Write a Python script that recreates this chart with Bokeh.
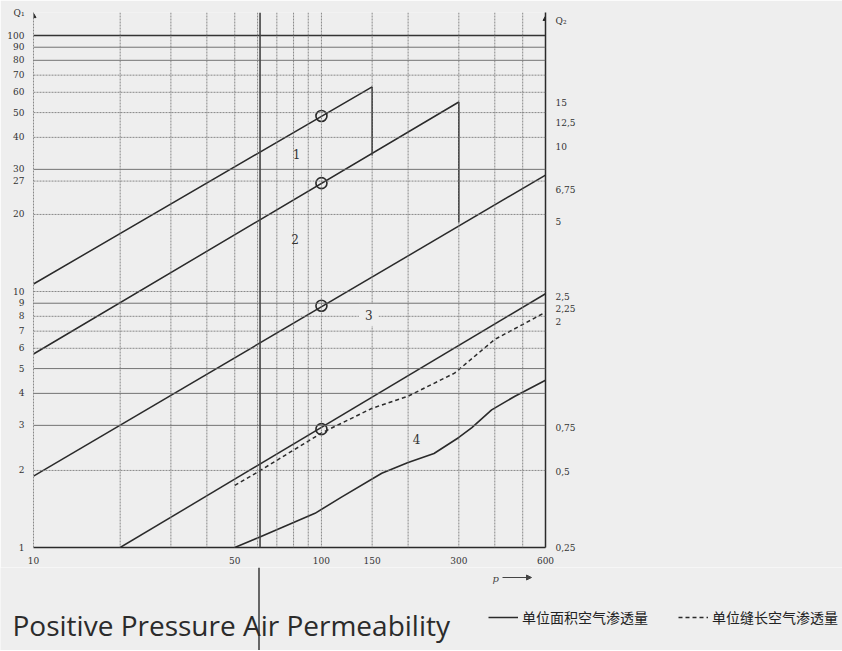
from bokeh.plotting import figure
from bokeh.layouts import column
from bokeh.models import (Range1d, LogAxis, LogScale, FixedTicker, CustomJSTickFormatter,
                          Span, Label, Arrow, NormalHead, Legend, LegendItem)
from bokeh.core.properties import value
from bokeh.embed import file_html
from bokeh.resources import INLINE

# ---------------- data ----------------
p_ticks = [10, 50, 100, 150, 300, 600]
q1_ticks = [1, 2, 3, 4, 5, 6, 7, 8, 9, 10, 20, 27, 30, 40, 50, 60, 70, 80, 90, 100]
q2_ticks = [0.25, 0.5, 0.75, 2, 2.25, 2.5, 5, 6.75, 10, 12.5, 15]
q1_name_tick = 122.5   # where the axis name "Q₁" sits on the left axis
q2_name_tick = 32      # where the axis name "Q₂" sits on the right axis

ygrid_solid = [3, 4, 5, 9, 30, 80, 90]
ygrid_dotted = [2, 6, 7, 8, 10, 20, 27, 40, 50, 60, 70]
ygrid_top = [100]
xgrid_dotted = [20, 30, 40, 50, 60, 70, 80, 90, 100, 150, 200, 300, 400, 500]
scan_line_p = [61.2]   # dark vertical fold line of the scanned page

line1_p = [10, 150, 150]
line1_q = [10.7, 63, 34]
line2_p = [10, 300, 300]
line2_q = [5.7, 55, 18.6]
line3_p = [10, 600]
line3_q = [1.9, 28.5]
line4_p = [20, 600]
line4_q = [1.0, 9.8]

dashed_p = [50, 60, 100, 150, 200, 290, 400, 600]
dashed_q = [1.75, 1.97, 2.8, 3.5, 3.9, 4.8, 6.5, 8.3]

curve4_p = [50, 60, 95, 117, 162, 200, 246, 300, 333, 390, 470, 600]
curve4_q = [1.0, 1.09, 1.36, 1.57, 1.95, 2.15, 2.33, 2.69, 2.94, 3.45, 3.9, 4.5]

circle_p = [100, 100, 100, 100]
circle_q = [48.5, 26.5, 8.8, 2.9]

curve_labels = ["1", "2", "3", "4"]
curve_label_p = [82, 81, 146, 214]
curve_label_q = [34.5, 16.0, 8.1, 2.65]

title_text = "Positive Pressure Air Permeability"
legend_labels = ["单位面积空气渗透量", "单位缝长空气渗透量"]
p_name = "p"

# ---------------- style ----------------
BG = "#eeeeee"
INK = "#2a2a2a"
SERIF = "DejaVu Serif"
W = 842

p = figure(width=W, height=567, x_axis_type="log", y_axis_type="log",
           x_range=Range1d(10, 600), y_range=Range1d(1, 123),
           output_backend="svg", toolbar_location=None,
           min_border_left=33, min_border_right=W - 545, min_border_top=12, min_border_bottom=20,
           background_fill_color=BG, border_fill_color=BG, outline_line_color=None)
p.frame_align = False
p.extra_y_ranges = {"q2": Range1d(0.25, 34.5)}
p.extra_y_scales = {"q2": LogScale()}
p.grid.visible = False

fmt_x = CustomJSTickFormatter(code="return tick.toString();")
fmt_l = CustomJSTickFormatter(args=dict(nt=q1_name_tick),
                              code="if (tick == nt) { return 'Q₁'; } return tick.toString();")
fmt_r = CustomJSTickFormatter(args=dict(nt=q2_name_tick),
                              code="if (tick == nt) { return 'Q₂'; } return tick.toString().replace('.', ',');")

# left axis
ya = p.yaxis[0]
ya.ticker = FixedTicker(ticks=q1_ticks + [q1_name_tick])
ya.formatter = fmt_l
ya.major_tick_line_color = None
ya.minor_tick_line_color = None
ya.axis_line_color = "#888888"
ya.axis_line_dash = "2 1"
ya.major_label_standoff = 3
ya.major_label_text_font = SERIF
ya.major_label_text_font_size = "9px"
ya.major_label_text_color = "#333333"

# bottom axis
xa = p.xaxis[0]
xa.ticker = FixedTicker(ticks=p_ticks)
xa.formatter = fmt_x
xa.major_tick_line_color = None
xa.minor_tick_line_color = None
xa.axis_line_color = INK
xa.axis_line_width = 1.5
xa.major_label_standoff = 3
xa.major_label_text_font = SERIF
xa.major_label_text_font_size = "9px"
xa.major_label_text_color = "#333333"

# right axis
ra = LogAxis(y_range_name="q2", ticker=FixedTicker(ticks=q2_ticks + [q2_name_tick]),
             formatter=fmt_r)
ra.major_tick_line_color = None
ra.minor_tick_line_color = None
ra.axis_line_color = INK
ra.axis_line_width = 1.5
ra.major_label_standoff = 4
ra.major_label_text_font = SERIF
ra.major_label_text_font_size = "9px"
ra.major_label_text_color = "#333333"
p.add_layout(ra, "right")

# grid lines
for v in ygrid_dotted:
    p.add_layout(Span(location=v, dimension="width", line_color="#777777", line_width=1,
                      line_dash="2 1", line_alpha=0.85))
for v in ygrid_solid:
    p.add_layout(Span(location=v, dimension="width", line_color="#666666", line_width=1,
                      line_alpha=0.9))
for v in ygrid_top:
    p.add_layout(Span(location=v, dimension="width", line_color="#333333", line_width=1.6))
for v in xgrid_dotted:
    p.add_layout(Span(location=v, dimension="height", line_color="#777777", line_width=1,
                      line_dash="2 1", line_alpha=0.85))
for v in scan_line_p:
    p.add_layout(Span(location=v, dimension="height", line_color="#444444", line_width=1.6))

# curves
p.line(line1_p, line1_q, line_color=INK, line_width=1.5)
p.line(line2_p, line2_q, line_color=INK, line_width=1.5)
p.line(line3_p, line3_q, line_color=INK, line_width=1.5)
p.line(line4_p, line4_q, line_color=INK, line_width=1.5)
p.line(curve4_p, curve4_q, line_color=INK, line_width=1.6)
p.line(dashed_p, dashed_q, line_color=INK, line_width=1.5, line_dash="4 3")
p.scatter(circle_p, circle_q, marker="circle", size=11, fill_color=None,
          line_color=INK, line_width=1.6)

# axis arrowheads
p.scatter([10], [119], marker="triangle", size=5, fill_color=INK, line_color=INK)
p.scatter([600], [32.5], marker="triangle", size=5, fill_color=INK, line_color=INK,
          y_range_name="q2")

# curve number labels
for t, xv, yv in zip(curve_labels, curve_label_p, curve_label_q):
    p.add_layout(Label(x=xv, y=yv, text=t, text_font=SERIF, text_font_size="12px",
                       text_color="#333333", text_align="center", text_baseline="middle",
                       background_fill_color=BG if t == "3" else None,
                       padding=6 if t == "3" else 0))

# ---------------- bottom strip: axis name p, legend, title ----------------
H2 = 83
b = figure(width=W, height=H2, x_range=Range1d(0, W), y_range=Range1d(H2, 0),
           output_backend="svg", toolbar_location=None,
           x_axis_location=None, y_axis_location=None,
           min_border=0, min_border_left=0, min_border_right=0, min_border_top=0,
           min_border_bottom=0, background_fill_color=BG, border_fill_color=BG,
           outline_line_color=None)
b.frame_align = False
b.grid.visible = False

# continuation of the scan's fold line through the lower strip
b.segment(x0=[258.5], y0=[0], x1=[258.5], y1=[H2], line_color="#444444", line_width=1.6)

b.text(x=[492], y=[11], text=[p_name], text_font=value(SERIF), text_font_style="italic",
       text_font_size="10px", text_color="#444444", text_baseline="middle", text_align="left")
b.add_layout(Arrow(x_start=502, y_start=10, x_end=531, y_end=10,
                   line_color="#444444", line_width=1,
                   end=NormalHead(size=5, fill_color="#444444", line_color="#444444")))

b.text(x=[12], y=[57], text=[title_text], text_font=value("Open Sans"),
       text_font_size="28px", text_color="#2b2b2b", text_baseline="middle",
       text_align="left")

nan = float("nan")
rs = b.line(x=[nan], y=[nan], line_color=INK, line_width=1.5)
rdash = b.line(x=[nan], y=[nan], line_color=INK, line_width=1.5, line_dash="4 3")
legend = Legend(items=[LegendItem(label=legend_labels[0], renderers=[rs]),
                       LegendItem(label=legend_labels[1], renderers=[rdash])],
                location=(488, 23), orientation="horizontal",
                background_fill_alpha=0, border_line_color=None,
                label_text_font="Noto Sans CJK SC", label_text_font_size="14px",
                label_text_color="#222222", glyph_width=30, label_standoff=4,
                spacing=30, padding=0, margin=0)
b.add_layout(legend, "center")

layout = column(p, b, spacing=0)
open("out.html", "w").write(file_html(layout, INLINE))
